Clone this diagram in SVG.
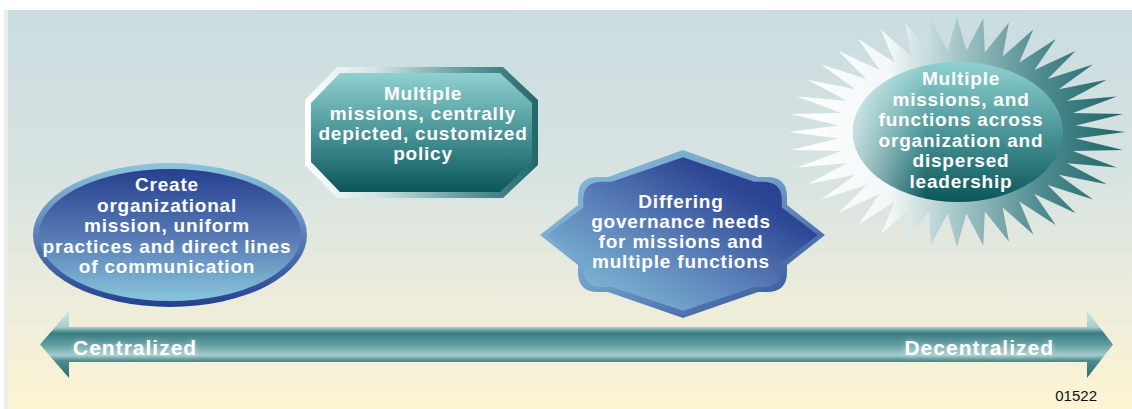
<svg xmlns="http://www.w3.org/2000/svg" width="1132" height="409" viewBox="0 0 1132 409">
<style>
.t{font-family:"Liberation Sans",Arial,sans-serif;font-weight:bold;font-size:19px;letter-spacing:0.8px;fill:#ffffff;text-anchor:middle}
.ax{font-family:"Liberation Sans",Arial,sans-serif;font-weight:bold;font-size:21px;letter-spacing:1px;fill:#ffffff}
.id{font-family:"Liberation Sans",Arial,sans-serif;font-size:15px;fill:#111111}
</style>
<defs>
<linearGradient id="bg" x1="0" y1="0" x2="0" y2="1">
<stop offset="0" stop-color="#c9dce0"/>
<stop offset="0.45" stop-color="#d9e4e1"/>
<stop offset="0.75" stop-color="#eeeddb"/>
<stop offset="1" stop-color="#fdf4d2"/>
</linearGradient>
<linearGradient id="ellRing" x1="0" y1="0" x2="0" y2="1">
<stop offset="0" stop-color="#8cc6dc"/>
<stop offset="0.5" stop-color="#5b7fb8"/>
<stop offset="1" stop-color="#23408f"/>
</linearGradient>
<linearGradient id="ellFill" x1="0" y1="0" x2="0" y2="1">
<stop offset="0" stop-color="#26408e"/>
<stop offset="0.5" stop-color="#5578b4"/>
<stop offset="1" stop-color="#88c6dc"/>
</linearGradient>
<linearGradient id="octRing" x1="0" y1="0" x2="1" y2="0">
<stop offset="0" stop-color="#ffffff"/>
<stop offset="0.3" stop-color="#d2e4e4"/>
<stop offset="0.7" stop-color="#5f979a"/>
<stop offset="1" stop-color="#23676b"/>
</linearGradient>
<linearGradient id="teal" x1="0" y1="0" x2="0" y2="1">
<stop offset="0" stop-color="#8fd1d0"/>
<stop offset="0.5" stop-color="#4a9598"/>
<stop offset="1" stop-color="#0a5659"/>
</linearGradient>
<linearGradient id="starRing" x1="0" y1="0" x2="1" y2="1">
<stop offset="0" stop-color="#8cc2da"/>
<stop offset="0.5" stop-color="#6f9cc8"/>
<stop offset="1" stop-color="#2a4590"/>
</linearGradient>
<linearGradient id="starFill" x1="0" y1="1" x2="1" y2="0">
<stop offset="0" stop-color="#8ccfe0"/>
<stop offset="0.45" stop-color="#5a7fb8"/>
<stop offset="0.75" stop-color="#2c4693"/>
<stop offset="1" stop-color="#243d8c"/>
</linearGradient>
<linearGradient id="burst" x1="0" y1="0" x2="1" y2="0">
<stop offset="0" stop-color="#ffffff"/>
<stop offset="0.3" stop-color="#f2f7f7"/>
<stop offset="0.5" stop-color="#a6c6c8"/>
<stop offset="0.75" stop-color="#4e8b8f"/>
<stop offset="1" stop-color="#1d6569"/>
</linearGradient>
<linearGradient id="glowL" x1="0" y1="0" x2="1" y2="0">
<stop offset="0" stop-color="#ffffff" stop-opacity="0.7"/>
<stop offset="0.35" stop-color="#ffffff" stop-opacity="0"/>
</linearGradient>
<linearGradient id="arrowG" gradientUnits="userSpaceOnUse" x1="0" y1="311" x2="0" y2="378">
<stop offset="0" stop-color="#cfe4e4"/>
<stop offset="0.24" stop-color="#a9cdcd"/>
<stop offset="0.33" stop-color="#3a7c80"/>
<stop offset="0.5" stop-color="#5e9ca0"/>
<stop offset="0.66" stop-color="#a4cbcc"/>
<stop offset="0.74" stop-color="#4f8c90"/>
<stop offset="1" stop-color="#2a6c70"/>
</linearGradient>
<filter id="soft" x="-10%" y="-40%" width="120%" height="180%">
<feGaussianBlur stdDeviation="3"/>
</filter>
</defs>

<rect x="0" y="0" width="1132" height="409" fill="#ffffff"/>
<rect x="4" y="10" width="5" height="399" fill="#ececec"/>
<rect x="8" y="10" width="1124" height="399" fill="url(#bg)"/>

<g id="node-centralized-ellipse">
<ellipse cx="170" cy="235" rx="137" ry="72" fill="url(#ellRing)"/>
<ellipse cx="170" cy="235" rx="131" ry="66" fill="url(#ellFill)"/>
<text class="t" x="167" y="191">Create</text>
<text class="t" x="167" y="211.5">organizational</text>
<text class="t" x="167" y="232">mission, uniform</text>
<text class="t" x="167" y="252.5">practices and direct lines</text>
<text class="t" x="167" y="273">of communication</text>
</g>

<g id="node-octagon">
<polygon points="337,67 503,67 538,100 538,165 503,198 337,198 305,165 305,100" fill="url(#octRing)"/>
<polygon points="340,73 500,73 532,103 532,162 500,192 340,192 311,162 311,103" fill="url(#teal)"/>
<text class="t" x="423" y="100">Multiple</text>
<text class="t" x="423" y="120">missions, centrally</text>
<text class="t" x="423" y="140">depicted, customized</text>
<text class="t" x="423" y="160">policy</text>
</g>

<g id="node-star">
<path d="M683 150 L758 177 L767 177 Q787 177 787 197 L787 205 L825 235 L787 265 L787 272 Q787 292 767 292 L758 292 L683 318 L608 292 L598 292 Q578 292 578 272 L578 265 L540 235 L578 205 L578 197 Q578 177 598 177 L608 177 Z" fill="url(#starRing)"/>
<path transform="translate(683,234) scale(0.95,0.915) translate(-683,-234)" d="M683 150 L758 177 L767 177 Q787 177 787 197 L787 205 L825 235 L787 265 L787 272 Q787 292 767 292 L758 292 L683 318 L608 292 L598 292 Q578 292 578 272 L578 265 L540 235 L578 205 L578 197 Q578 177 598 177 L608 177 Z" fill="url(#starFill)"/>
<text class="t" x="681" y="208">Differing</text>
<text class="t" x="681" y="228">governance needs</text>
<text class="t" x="681" y="248">for missions and</text>
<text class="t" x="681" y="268">multiple functions</text>
</g>

<g id="node-starburst">
<g transform="translate(957,132) scale(1.68,1.15)">
<polygon fill="url(#burst)" points="100,0 70.77,5.57 98.77,15.64 69.04,16.57 95.11,30.90 65.58,27.16 89.10,45.40 60.53,37.09 80.90,58.78 53.98,46.10 70.71,70.71 46.10,53.98 58.78,80.90 37.09,60.53 45.40,89.10 27.16,65.58 30.90,95.11 16.57,69.04 15.64,98.77 5.57,70.77 0,100 -5.57,70.77 -15.64,98.77 -16.57,69.04 -30.90,95.11 -27.16,65.58 -45.40,89.10 -37.09,60.53 -58.78,80.90 -46.10,53.98 -70.71,70.71 -53.98,46.10 -80.90,58.78 -60.53,37.09 -89.10,45.40 -65.58,27.16 -95.11,30.90 -69.04,16.57 -98.77,15.64 -70.77,5.57 -100,0 -70.77,-5.57 -98.77,-15.64 -69.04,-16.57 -95.11,-30.90 -65.58,-27.16 -89.10,-45.40 -60.53,-37.09 -80.90,-58.78 -53.98,-46.10 -70.71,-70.71 -46.10,-53.98 -58.78,-80.90 -37.09,-60.53 -45.40,-89.10 -27.16,-65.58 -30.90,-95.11 -16.57,-69.04 -15.64,-98.77 -5.57,-70.77 0,-100 5.57,-70.77 15.64,-98.77 16.57,-69.04 30.90,-95.11 27.16,-65.58 45.40,-89.10 37.09,-60.53 58.78,-80.90 46.10,-53.98 70.71,-70.71 53.98,-46.10 80.90,-58.78 60.53,-37.09 89.10,-45.40 65.58,-27.16 95.11,-30.90 69.04,-16.57 98.77,-15.64 70.77,-5.57"/>
</g>
<ellipse cx="958" cy="132" rx="105" ry="70" fill="url(#teal)"/>
<ellipse cx="958" cy="132" rx="105" ry="70" fill="url(#glowL)"/>
<text class="t" x="961" y="85">Multiple</text>
<text class="t" x="961" y="105.5">missions, and</text>
<text class="t" x="961" y="126">functions across</text>
<text class="t" x="961" y="146.5">organization and</text>
<text class="t" x="961" y="167">dispersed</text>
<text class="t" x="961" y="187.5">leadership</text>
</g>

<g id="connectors">
<path d="M40 344.5 L69 311 L69 327 L1087 327 L1087 311 L1113 344.5 L1087 378 L1087 362 L69 362 L69 378 Z" fill="url(#arrowG)"/>
<text class="ax" x="73" y="355" opacity="0.45" filter="url(#soft)">Centralized</text>
<text class="ax" x="1054" y="355" text-anchor="end" opacity="0.45" filter="url(#soft)">Decentralized</text>
<text class="ax" x="73" y="355">Centralized</text>
<text class="ax" x="1054" y="355" text-anchor="end">Decentralized</text>
</g>

<text class="id" x="1097" y="401" text-anchor="end">01522</text>
</svg>
